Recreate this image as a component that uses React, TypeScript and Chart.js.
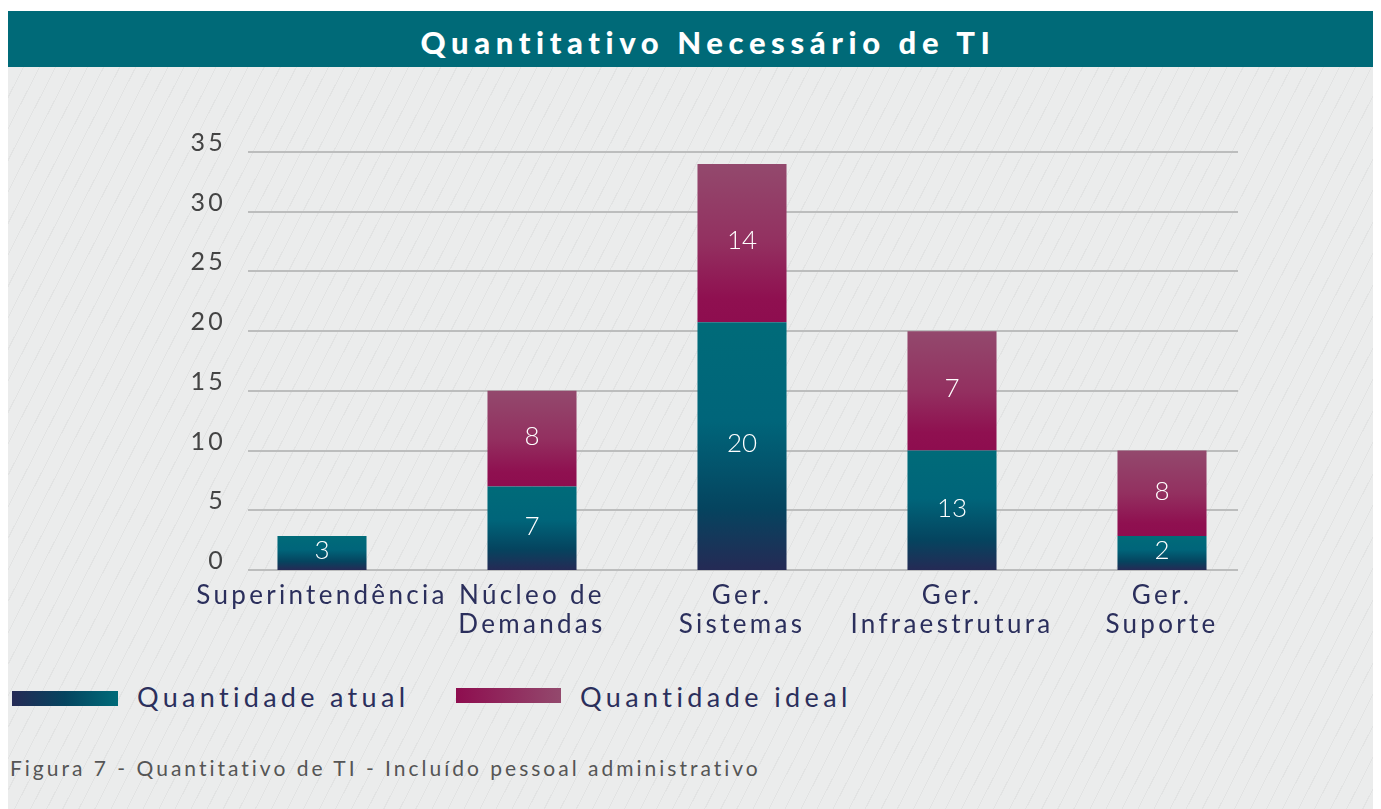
import React, { useEffect, useRef } from "react";
import { Chart, registerables } from "chart.js";

Chart.register(...registerables);

const categories: string[][] = [
  ["Superintendência"],
  ["Núcleo de", "Demandas"],
  ["Ger.", "Sistemas"],
  ["Ger.", "Infraestrutura"],
  ["Ger.", "Suporte"],
];
// bar heights as drawn in the figure
const atualValues = [2.85, 7, 20.75, 10, 2.85];
const idealValues = [0, 8, 13.25, 10, 7.15];
// numbers printed inside the bars
const atualLabels = ["3", "7", "20", "13", "2"];
const idealLabels = ["", "8", "14", "7", "8"];
const yTicks = [0, 5, 10, 15, 20, 25, 30, 35];
const seriesNames = ["Quantidade atual", "Quantidade ideal"];

const FONT = "Lato, 'Open Sans', sans-serif";
const NAVY_TEXT = "#2b2f5c";
const atualStops: [number, string][] = [
  [0, "#006b79"],
  [0.4, "#00657a"],
  [0.75, "#05445f"],
  [1, "#252a55"],
];
const idealStops: [number, string][] = [
  [0, "#93496d"],
  [0.5, "#933060"],
  [0.85, "#8f1050"],
  [1, "#8e0d4f"],
];

function gradientFill(stops: [number, string][]) {
  return (c: any) => {
    const chart = c.chart;
    if (!chart.chartArea || c.type !== "data") return stops[0][1];
    const ys = chart.scales.y;
    const di = c.datasetIndex;
    const i = c.dataIndex;
    let base = 0;
    for (let d = 0; d < di; d++) base += chart.data.datasets[d].data[i] || 0;
    const top = base + (chart.data.datasets[di].data[i] || 0);
    const y0 = ys.getPixelForValue(top);
    const y1 = ys.getPixelForValue(base);
    if (!isFinite(y0) || !isFinite(y1) || y1 - y0 < 1) return stops[0][1];
    const g = chart.ctx.createLinearGradient(0, y0, 0, y1);
    stops.forEach(([o, col]) => g.addColorStop(o, col));
    return g;
  };
}

const spacingPlugin = {
  id: "spacing",
  beforeUpdate(chart: any) {
    chart.ctx.letterSpacing = "3.3px";
  },
  beforeDraw(chart: any) {
    chart.ctx.letterSpacing = "3.3px";
  },
};

const gridPlugin = {
  id: "customGrid",
  beforeDatasetsDraw(chart: any) {
    const { ctx, chartArea } = chart;
    const ys = chart.scales.y;
    const x0 = chartArea.left - 74;
    const x1 = chartArea.right + 76;
    ctx.save();
    ctx.strokeStyle = "#bcbdbd";
    ctx.lineWidth = 2;
    yTicks.forEach((v) => {
      const y = Math.round(ys.getPixelForValue(v));
      ctx.beginPath();
      ctx.moveTo(x0, y);
      ctx.lineTo(x1, y);
      ctx.stroke();
    });
    ctx.restore();
  },
};

const labelPlugin = {
  id: "barLabels",
  afterDatasetsDraw(chart: any) {
    const { ctx } = chart;
    const labelSets = [atualLabels, idealLabels];
    ctx.save();
    ctx.fillStyle = "#ffffff";
    ctx.font = `300 26px ${FONT}`;
    ctx.letterSpacing = "0px";
    ctx.textAlign = "center";
    ctx.textBaseline = "middle";
    chart.data.datasets.forEach((_: any, di: number) => {
      const meta = chart.getDatasetMeta(di);
      meta.data.forEach((el: any, i: number) => {
        const txt = labelSets[di][i];
        if (!txt) return;
        const cy = (el.y + el.base) / 2 - 2;
        ctx.fillText(txt, el.x, cy);
      });
    });
    ctx.restore();
  },
};

function BarChart() {
  const ref = useRef<HTMLCanvasElement | null>(null);
  useEffect(() => {
    if (!ref.current) return;
    const chart = new Chart(ref.current, {
      type: "bar",
      data: {
        labels: categories as any,
        datasets: [
          {
            label: seriesNames[0],
            data: atualValues,
            backgroundColor: gradientFill(atualStops) as any,
            borderWidth: 0,
            barPercentage: 0.424,
            categoryPercentage: 1,
            clip: false as any,
          },
          {
            label: seriesNames[1],
            data: idealValues,
            backgroundColor: gradientFill(idealStops) as any,
            borderWidth: 0,
            barPercentage: 0.424,
            categoryPercentage: 1,
            clip: false as any,
          },
        ],
      },
      options: {
        responsive: false,
        animation: false,
        events: [],
        layout: { padding: { top: 85, left: 0, right: 219, bottom: 0 } },
        plugins: {
          legend: { display: false },
          tooltip: { enabled: false },
          title: { display: false },
        },
        scales: {
          x: {
            stacked: true,
            offset: false,
            grid: { display: false, offset: false },
            border: { display: false },
            ticks: {
              color: NAVY_TEXT,
              font: { family: FONT, size: 26, weight: "normal", lineHeight: 1.12 },
              padding: 3,
              autoSkip: false,
              maxRotation: 0,
              minRotation: 0,
            },
            afterFit: (s: any) => {
              s.height = 90;
              s.paddingLeft = 0;
              s.paddingRight = 0;
              s.paddingTop = 0;
              s.paddingBottom = 0;
            },
          },
          y: {
            stacked: true,
            min: 0,
            max: 35,
            grid: { display: false },
            border: { display: false },
            afterBuildTicks: (s: any) => {
              s.ticks = yTicks.map((v) => ({ value: v }));
            },
            ticks: {
              color: "#444444",
              font: { family: FONT, size: 25, weight: "normal" },
              padding: 88,
              labelOffset: -9,
            },
            afterFit: (s: any) => {
              s.width = 314;
              s.paddingTop = 0;
              s.paddingBottom = 0;
              s.paddingLeft = 0;
              s.paddingRight = 0;
            },
          },
        },
      },
      plugins: [spacingPlugin, gridPlugin, labelPlugin],
    });
    return () => chart.destroy();
  }, []);
  return <canvas ref={ref} width={1373} height={593} style={{ display: "block" }} />;
}

export default function App() {
  const hatch =
    "repeating-linear-gradient(117deg, rgba(0,0,0,0) 0px, rgba(0,0,0,0) 13.3px, rgba(0,0,0,0.04) 13.3px, rgba(0,0,0,0.04) 14.3px), #ebecec";
  return (
    <div style={{ position: "relative", width: 1373, height: 801, overflow: "hidden", fontFamily: FONT }}>
      <div
        style={{
          position: "absolute",
          left: 0,
          top: 3,
          width: 1373,
          height: 56,
          background: "#006a78",
        }}
      >
        <div
          style={{
            position: "absolute",
            left: 0,
            width: 1400,
            top: 16,
            textAlign: "center",
            color: "#ffffff",
            fontWeight: 900,
            fontSize: 31,
            lineHeight: "30px",
            letterSpacing: "5.6px",
            whiteSpace: "nowrap",
          }}
        >
          Quantitativo Necessário de TI
        </div>
      </div>
      <div style={{ position: "absolute", left: 0, top: 59, width: 1373, height: 742, background: hatch }} />
      <div style={{ position: "absolute", left: 0, top: 59 }}>
        <BarChart />
      </div>
      <div
        style={{
          position: "absolute",
          left: 4,
          top: 683,
          width: 106,
          height: 15,
          background: "linear-gradient(to right, #252a55, #05445f 50%, #006b79)",
        }}
      />
      <div
        style={{
          position: "absolute",
          left: 129,
          top: 675,
          fontSize: 27,
          lineHeight: "27px",
          letterSpacing: "4.3px",
          color: NAVY_TEXT,
          whiteSpace: "nowrap",
        }}
      >
        {seriesNames[0]}
      </div>
      <div
        style={{
          position: "absolute",
          left: 448,
          top: 680,
          width: 105,
          height: 15,
          background: "linear-gradient(to right, #8e0d4f, #93496d)",
        }}
      />
      <div
        style={{
          position: "absolute",
          left: 572,
          top: 675,
          fontSize: 27,
          lineHeight: "27px",
          letterSpacing: "4.4px",
          color: NAVY_TEXT,
          whiteSpace: "nowrap",
        }}
      >
        {seriesNames[1]}
      </div>
      <div
        style={{
          position: "absolute",
          left: 2,
          top: 749,
          fontSize: 21,
          lineHeight: "21px",
          letterSpacing: "3px",
          color: "#555555",
          whiteSpace: "nowrap",
        }}
      >
        Figura 7 - Quantitativo de TI - Incluído pessoal administrativo
      </div>
    </div>
  );
}
